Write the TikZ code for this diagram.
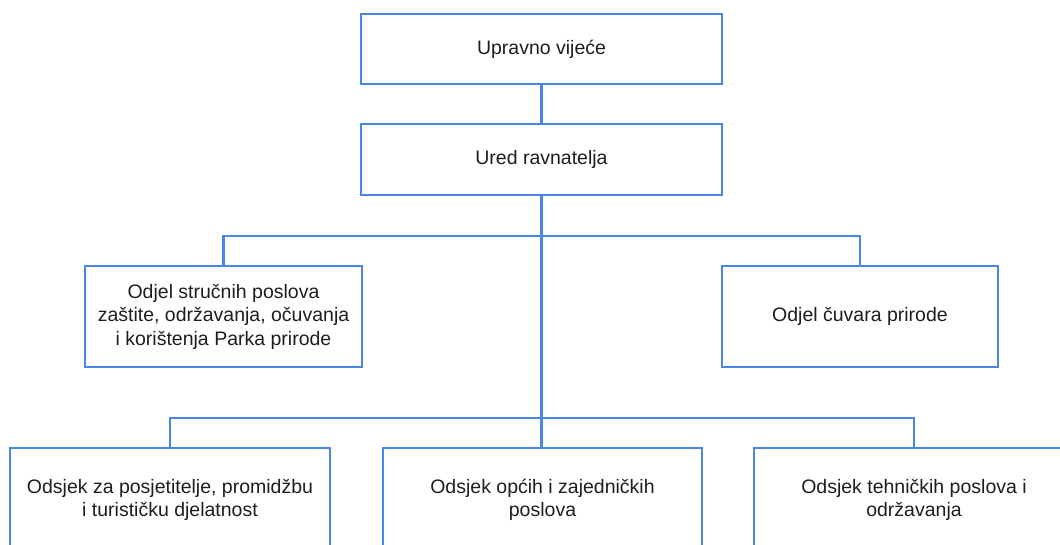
\documentclass[tikz,border=0pt]{standalone}
\usepackage{fontspec}
\setmainfont{Liberation Sans}
\definecolor{orgblue}{HTML}{4A86E8}
\definecolor{orgtext}{HTML}{1E1E1E}

\begin{document}
\begin{tikzpicture}[x=1pt, y=-1pt, line width=2.4pt,
      every node/.style = {shape=rectangle, draw=orgblue, fill=white,
        align=center, text=orgtext, inner sep=0pt,
        font=\fontsize{19.5}{23.5}\selectfont},
      link/.style = {draw=orgblue, line width=2.4pt}]
      \useasboundingbox (0,0) rectangle (1060,545);
      \clip (0,0) rectangle (1060,545);
      \node[minimum width=361pt, minimum height=70pt] (uv) at (541.5,49) {Upravno vijeće};
      \node[minimum width=361pt, minimum height=71pt] (ured) at (541.5,159.5) {Ured ravnatelja};
      \node[minimum width=277pt, minimum height=101pt] (strucni) at (223.5,316.5)
        {Odjel stručnih poslova\\zaštite, održavanja, očuvanja\\i korištenja Parka prirode};
      \node[minimum width=276pt, minimum height=101pt] (cuvari) at (860,316.5) {Odjel čuvara prirode};
      \node[minimum width=320pt, minimum height=104pt] (posjet) at (170,500)
        {Odsjek za posjetitelje, promidžbu\\i turističku djelatnost};
      \node[minimum width=319pt, minimum height=104pt] (opci) at (542.5,500)
        {Odsjek općih i zajedničkih\\poslova};
      \node[minimum width=320pt, minimum height=104pt] (tehnicki) at (914,500)
        {Odsjek tehničkih poslova i\\održavanja};
      \coordinate (bus1) at (541.5,236);
      \coordinate (bus2) at (541.5,418);
      \draw[link] (uv) -- (ured);
      \draw[link] (ured.south) -- (bus2);
      \draw[link] (strucni.north) |- (bus1) -| (cuvari.north);
      \draw[link] (posjet.north) |- (bus2) -| (tehnicki.north);
      \draw[link] (bus2) -- (opci.north -| bus2);
  \end{tikzpicture}
\end{document}
